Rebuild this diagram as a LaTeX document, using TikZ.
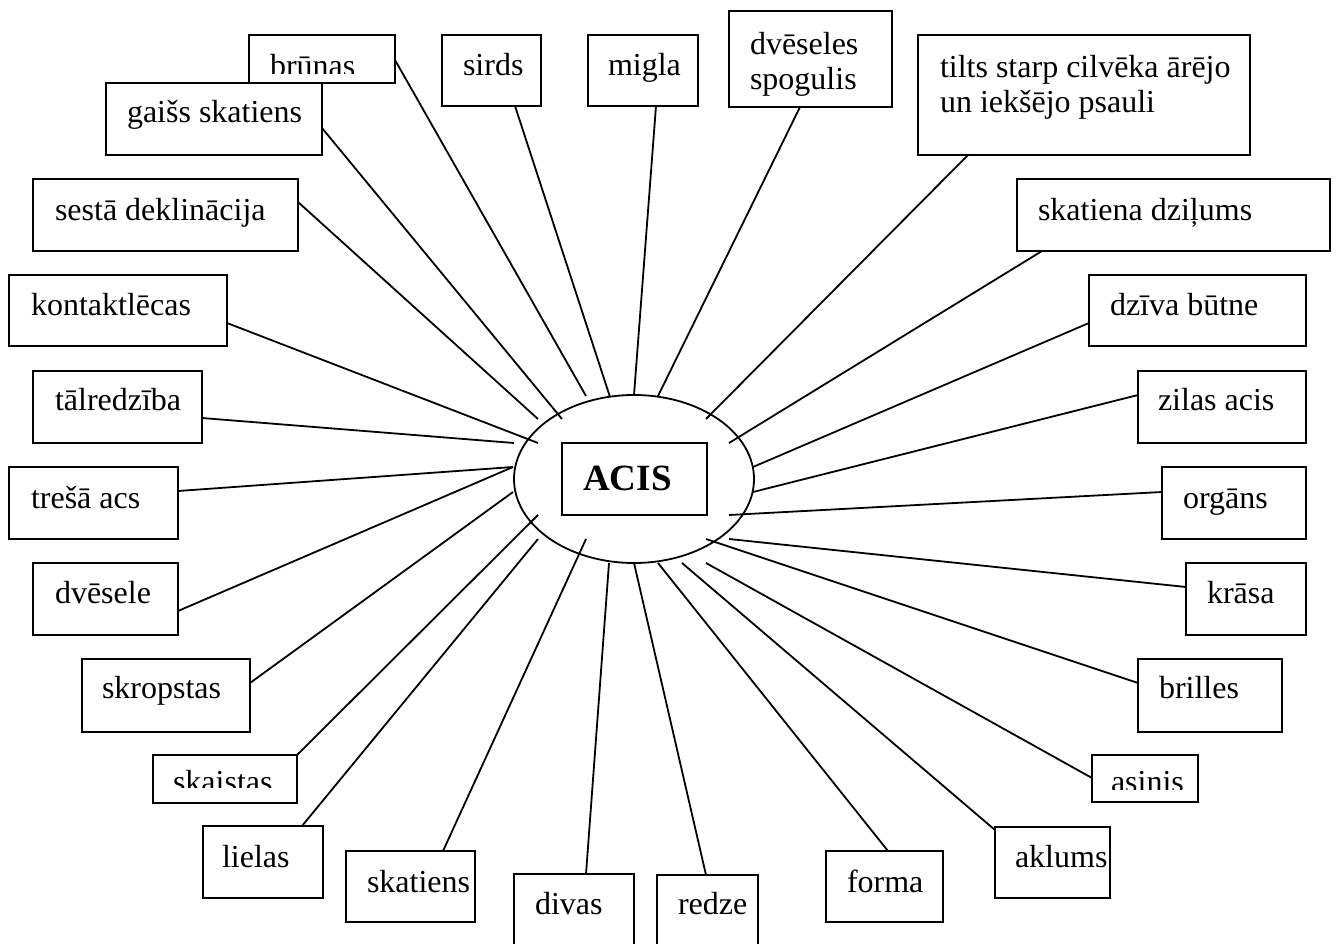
\documentclass[tikz,border=0pt]{standalone}
\usepackage{fontspec}
\setmainfont{Liberation Serif}
\usetikzlibrary{shapes.geometric}
\begin{document}
\begin{tikzpicture}[x=1pt,y=-1pt,
  box/.style={draw, fill=white, line width=1.8pt, inner sep=0pt, outer sep=0pt, anchor=north west},
  lbl/.style={anchor=base west, inner sep=0pt, outer sep=0pt, font=\fontsize{32}{35}\selectfont, align=left},
  link/.style={line width=1.8pt}]
\clip (0,0) rectangle (1340,944);
\fill[white] (0,0) rectangle (1340,944);

% centre
\node[draw, ellipse, fill=white, line width=1.8pt, inner sep=0pt, minimum width=240pt, minimum height=168pt] (oval) at (634,479) {};
\node[box, minimum width=145pt, minimum height=72pt] (acis) at (562,443) {};
\node[anchor=base west, inner sep=0pt, font=\fontsize{37}{40}\selectfont\bfseries] (tacis) at (583,490) {ACIS};

% boxes
\node[box, minimum width=146pt, minimum height=48pt] (brunas) at (249,35) {};
\begin{scope}
\clip (249,35) rectangle (395,74);
\node[lbl] (tbrunas) at (270,77) {brūnas};
\end{scope}
\node[box, minimum width=216pt, minimum height=72pt] (gaiss) at (106,83) {};
\node[lbl] (tgaiss) at (127,123) {gaišs skatiens};
\node[box, minimum width=99pt, minimum height=71pt] (sirds) at (442,35) {};
\node[lbl] (tsirds) at (463,76) {sirds};
\node[box, minimum width=110pt, minimum height=71pt] (migla) at (588,35) {};
\node[lbl] (tmigla) at (608,76) {migla};
\node[box, minimum width=163pt, minimum height=96pt] (dveseles) at (729,11) {};
\node[lbl] (tdveseles1) at (750,55) {dvēseles};
\node[lbl] (tdveseles2) at (750,90) {spogulis};
\node[box, minimum width=332pt, minimum height=120pt] (tilts) at (918,35) {};
\node[lbl] (ttilts1) at (940,78) {tilts starp cilvēka ārējo};
\node[lbl] (ttilts2) at (940,113) {un iekšējo psauli};
\node[box, minimum width=313pt, minimum height=72pt] (skatdz) at (1017,179) {};
\node[lbl] (tskatdz) at (1038,220) {skatiena dziļums};
\node[box, minimum width=217pt, minimum height=71pt] (dziva) at (1089,275) {};
\node[lbl] (tdziva) at (1110,315) {dzīva būtne};
\node[box, minimum width=168pt, minimum height=72pt] (zilas) at (1138,371) {};
\node[lbl] (tzilas) at (1158,410) {zilas acis};
\node[box, minimum width=144pt, minimum height=72pt] (organs) at (1162,467) {};
\node[lbl] (torgans) at (1183,508) {orgāns};
\node[box, minimum width=120pt, minimum height=72pt] (krasa) at (1186,563) {};
\node[lbl] (tkrasa) at (1207,603) {krāsa};
\node[box, minimum width=144pt, minimum height=73pt] (brilles) at (1138,659) {};
\node[lbl] (tbrilles) at (1159,698) {brilles};
\node[box, minimum width=106pt, minimum height=47pt] (asinis) at (1092,755) {};
\begin{scope}
\clip (1092,755) rectangle (1198,789);
\node[lbl] (tasinis) at (1111,792) {asinis};
\end{scope}
\node[box, minimum width=115pt, minimum height=71pt] (aklums) at (995,827) {};
\node[lbl] (taklums) at (1015,867) {aklums};
\node[box, minimum width=117pt, minimum height=71pt] (forma) at (826,851) {};
\node[lbl] (tforma) at (847,892) {forma};
\node[box, minimum width=101pt, minimum height=80pt] (redze) at (657,875) {};
\node[lbl] (tredze) at (678,914) {redze};
\node[box, minimum width=120pt, minimum height=80pt] (divas) at (514,874) {};
\node[lbl] (tdivas) at (535,914) {divas};
\node[box, minimum width=129pt, minimum height=71pt] (skatiens) at (346,851) {};
\node[lbl] (tskatiens) at (367,892) {skatiens};
\node[box, minimum width=120pt, minimum height=72pt] (lielas) at (203,826) {};
\node[lbl] (tlielas) at (222,867) {lielas};
\node[box, minimum width=144pt, minimum height=48pt] (skaistas) at (153,755) {};
\begin{scope}
\clip (153,755) rectangle (297,787);
\node[lbl] (tskaistas) at (173,792) {skaistas};
\end{scope}
\node[box, minimum width=168pt, minimum height=73pt] (skropstas) at (82,659) {};
\node[lbl] (tskropstas) at (102,698) {skropstas};
\node[box, minimum width=145pt, minimum height=72pt] (dvesele) at (33,563) {};
\node[lbl] (tdvesele) at (55,603) {dvēsele};
\node[box, minimum width=169pt, minimum height=72pt] (tresa) at (9,467) {};
\node[lbl] (ttresa) at (31,508) {trešā acs};
\node[box, minimum width=169pt, minimum height=72pt] (talredz) at (33,371) {};
\node[lbl] (ttalredz) at (55,410) {tālredzība};
\node[box, minimum width=218pt, minimum height=71pt] (kontakt) at (9,275) {};
\node[lbl] (tkontakt) at (31,315) {kontaktlēcas};
\node[box, minimum width=265pt, minimum height=72pt] (sesta) at (33,179) {};
\node[lbl] (tsesta) at (55,220) {sestā deklinācija};

% free ends near the oval
\coordinate (e1) at (586,396);
\coordinate (e2) at (562,419);
\coordinate (e3) at (610,397);
\coordinate (e4) at (634,395);
\coordinate (e5) at (658,396);
\coordinate (e6) at (706,419);
\coordinate (e7) at (729,443);
\coordinate (e8) at (753,467);
\coordinate (e9) at (753,492);
\coordinate (e10) at (729,515);
\coordinate (e11) at (729,539);
\coordinate (e12) at (706,539);
\coordinate (e13) at (706,563);
\coordinate (e14) at (682,563);
\coordinate (e15) at (658,563);
\coordinate (e16) at (634,563);
\coordinate (e17) at (609,563);
\coordinate (e18) at (586,539);
\coordinate (e19) at (538,539);
\coordinate (e20) at (538,515);
\coordinate (e21) at (513,492);
\coordinate (e22) at (513,467);
\coordinate (e23) at (513,467);
\coordinate (e24) at (514,443);
\coordinate (e25) at (538,443);
\coordinate (e26) at (538,419);

% connectors
\draw[link] (brunas.north west) ++(146,25) -- (e1);
\draw[link] (gaiss.north west) ++(216,45) -- (e2);
\draw[link] (sirds.north west) ++(73,71) -- (e3);
\draw[link] (migla.north west) ++(68,71) -- (e4);
\draw[link] (dveseles.north west) ++(71,96) -- (e5);
\draw[link] (tilts.north west) ++(50,120) -- (e6);
\draw[link] (skatdz.north west) ++(25,72) -- (e7);
\draw[link] (dziva.north west) ++(0,48) -- (e8);
\draw[link] (zilas.north west) ++(0,24) -- (e9);
\draw[link] (organs.north west) ++(0,25) -- (e10);
\draw[link] (krasa.north west) ++(0,24) -- (e11);
\draw[link] (brilles.north west) ++(0,24) -- (e12);
\draw[link] (asinis.north west) ++(0,23) -- (e13);
\draw[link] (aklums.north west) ++(0,3) -- (e14);
\draw[link] (forma.north west) ++(62,0) -- (e15);
\draw[link] (redze.north west) ++(49,0) -- (e16);
\draw[link] (divas.north west) ++(72,0) -- (e17);
\draw[link] (skatiens.north west) ++(97,0) -- (e18);
\draw[link] (lielas.north west) ++(99,0) -- (e19);
\draw[link] (skaistas.north west) ++(144,0) -- (e20);
\draw[link] (skropstas.north west) ++(168,24) -- (e21);
\draw[link] (dvesele.north west) ++(145,48) -- (e22);
\draw[link] (tresa.north west) ++(169,24) -- (e23);
\draw[link] (talredz.north west) ++(169,47) -- (e24);
\draw[link] (kontakt.north west) ++(218,48) -- (e25);
\draw[link] (sesta.north west) ++(265,23) -- (e26);
\end{tikzpicture}
\end{document}
